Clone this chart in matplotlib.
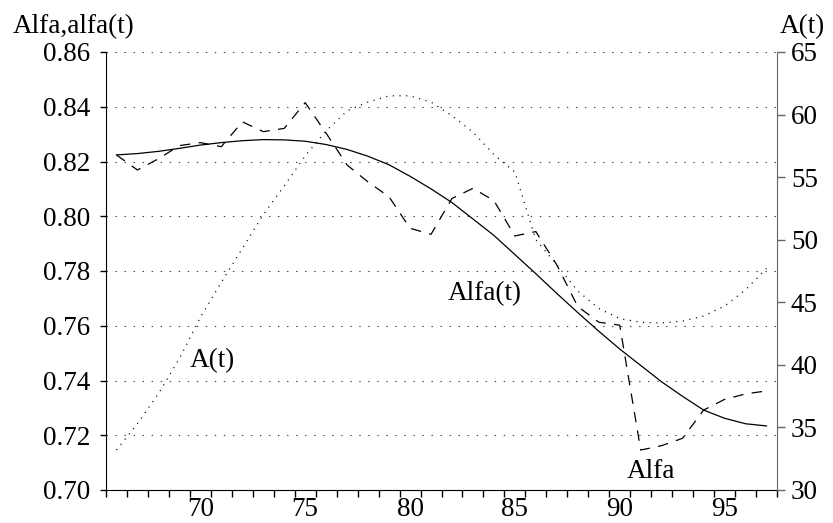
import numpy as np
import matplotlib.pyplot as plt
from matplotlib.ticker import FormatStrFormatter

# Times-liknande typsnitt som i originalet
plt.rcParams['font.family'] = ['Liberation Serif', 'DejaVu Serif']
plt.rcParams['font.size'] = 19.5
plt.rcParams['lines.scale_dashes'] = False

# Data
years = np.arange(66, 98)

# Alfa (streckad), årsvärden
alfa = [0.8224, 0.8169, 0.8210, 0.8258, 0.8269, 0.8254, 0.8345, 0.8309,
        0.8321, 0.8415, 0.8303, 0.8187, 0.8125, 0.8071, 0.7956, 0.7934,
        0.8065, 0.8102, 0.8057, 0.7928, 0.7944, 0.7822, 0.7670, 0.7613,
        0.7602, 0.7146, 0.7162, 0.7189, 0.7292, 0.7331, 0.7351, 0.7362]

# Alfa(t) (heldragen), utjämnad kurva
alfa_t = [0.8224, 0.8229, 0.8237, 0.8248, 0.8260, 0.8269, 0.8276, 0.8280,
          0.8279, 0.8274, 0.8262, 0.8244, 0.8219, 0.8188, 0.8146, 0.8100,
          0.8050, 0.7990, 0.7930, 0.7860, 0.7790, 0.7718, 0.7648, 0.7580,
          0.7515, 0.7455, 0.7395, 0.7342, 0.7292, 0.7262, 0.7242, 0.7234]

# A(t) (prickad), höger axel
a_t = [33.2, 35.3, 37.7, 40.5, 43.8, 46.6, 49.3, 52.0, 54.3, 56.7, 58.7,
       60.3, 61.0, 61.5, 61.5, 61.0, 59.9, 58.6, 56.8, 55.4, 50.0, 48.0,
       45.9, 44.5, 43.7, 43.4, 43.35, 43.5, 43.9, 44.7, 46.0, 47.7]

left_ticks = np.arange(0.70, 0.861, 0.02)
right_ticks = np.arange(30, 66, 5)
x_ticks = [70, 75, 80, 85, 90, 95]

# Skapa figur
fig = plt.figure(figsize=(8.33, 5.23), dpi=100)
ax = fig.add_axes([106 / 833, 33 / 523, 671 / 833, 438 / 523])
ax2 = ax.twinx()

# Kurvor
ax.plot(years, alfa_t, color='black', linewidth=0.9)
ax.plot(years, alfa, color='black', linewidth=0.9, linestyle=(0, (7.5, 6)))
ax2.plot(years, a_t, color='black', linewidth=0.9, linestyle=(0, (0.8, 4)))

# Axlar
ax.set_xlim(65.5, 97.5)
ax.set_ylim(0.70, 0.86)
ax2.set_ylim(30, 65)

ax.set_yticks(left_ticks)
ax.yaxis.set_major_formatter(FormatStrFormatter('%.2f'))
ax2.set_yticks(right_ticks)
ax.set_xticks(x_ticks)
ax.set_xticks(np.arange(65.5, 98, 1), minor=True)

ax.grid(axis='y', linestyle=(0, (1, 5.5)), color='0.25', linewidth=0.8)

ax.tick_params(axis='y', direction='out', length=4.5, width=1, pad=7)
ax.tick_params(axis='x', which='major', length=0, pad=5)
ax.tick_params(axis='x', which='minor', direction='out', length=5, width=1)
ax2.tick_params(axis='y', direction='out', length=6, width=1,
                color='0.4', pad=4)

for s in ['top', 'right']:
    ax.spines[s].set_visible(False)
for s in ['top', 'left', 'bottom']:
    ax2.spines[s].set_visible(False)
ax2.spines['right'].set_color('0.4')

# Texter
fig.text(13 / 833, 1 - 33 / 523, 'Alfa,alfa(t)', va='baseline')
fig.text(825 / 833, 1 - 33 / 523, 'A(t)', ha='right', va='baseline')
ax.text(81.8, 0.7694, 'Alfa(t)', va='baseline')
ax.text(69.5, 0.7450, 'A(t)', va='baseline')
ax.text(90.35, 0.7043, 'Alfa', va='baseline')

fig.savefig('out.png', dpi=100)
